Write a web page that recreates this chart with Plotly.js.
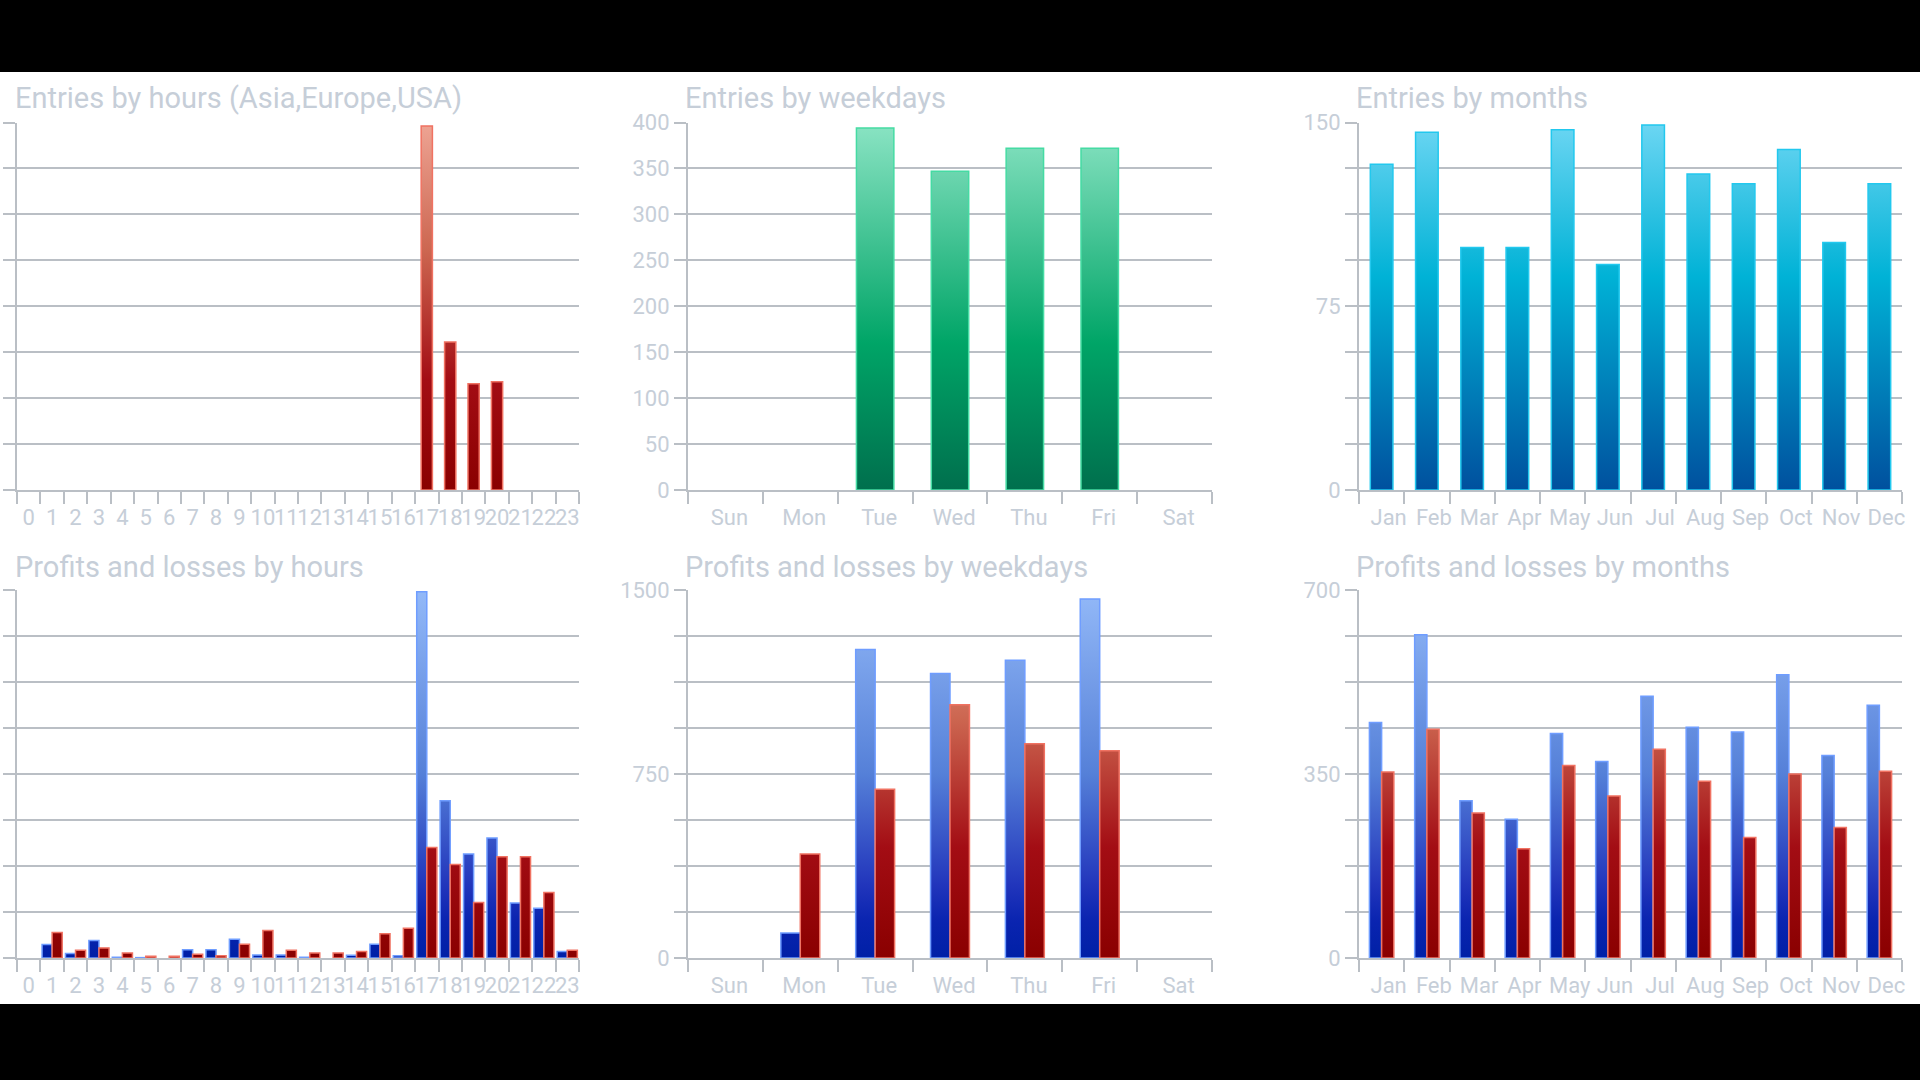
<!DOCTYPE html>
<html><head><meta charset="utf-8">
<script src="https://cdn.plot.ly/plotly-3.0.1.min.js"></script>
<style>html,body{margin:0;padding:0;background:#000;overflow:hidden}#chart{width:1920px;height:1080px}</style>
</head><body><div id="chart"></div>
<script>
// ---- data ----
const hourLabels = ['0','1','2','3','4','5','6','7','8','9','10','11','12','13','14','15','16','17','18','19','20','21','22','23'];
const weekdayLabels = ['Sun','Mon','Tue','Wed','Thu','Fri','Sat'];
const monthLabels = ['Jan','Feb','Mar','Apr','May','Jun','Jul','Aug','Sep','Oct','Nov','Dec'];

const entriesByHour = [0,0,0,0,0,0,0,0,0,0,0,0,0,0,0,0,0,743,302,217,221,0,0,0];
const entriesByWeekday = [0,0,394,347,372,372,0];
const entriesByMonth = [133,146,99,99,147,92,149,129,125,139,101,125];

const profitByHour = [0,74,25,95,4,2,0,45,45,102,16,16,4,0,15,75,12,1990,854,565,652,299,271,36];
const lossByHour   = [0,139,42,55,27,10,10,20,12,75,149,42,27,27,35,132,162,600,508,301,550,550,356,42];
const profitByWeekday = [0,102,1257,1160,1214,1463,0];
const lossByWeekday   = [0,424,688,1032,873,845,0];
const profitByMonth = [448,615,299,264,427,374,498,439,430,539,385,481];
const lossByMonth   = [354,435,276,208,366,308,397,336,229,350,248,355];

const titles = ['Entries by hours (Asia,Europe,USA)','Entries by weekdays','Entries by months',
                'Profits and losses by hours','Profits and losses by weekdays','Profits and losses by months'];

const monthEntryTicks = [0,18.75,37.5,56.25,75,93.75,112.5,131.25,150];
const monthEntryTickText = ['0','','','','75','','','','150'];
const weekdayPLTicks = [0,187.5,375,562.5,750,937.5,1125,1312.5,1500];
const weekdayPLTickText = ['0','','','','750','','','','1500'];
const monthPLTicks = [0,87.5,175,262.5,350,437.5,525,612.5,700];
const monthPLTickText = ['0','','','','350','','','','700'];

// ---- styling ----
const GRID = '#babfc5';
const TXT = '#c6ced8';
const FONT = 'Roboto, Arial, sans-serif';
const COLORS = {green:'#00a567', cyan:'#00b2d6', red:'#b01818', blue:'#3355cc'};
const BORDERS = {green:'#45dba3', cyan:'#22c8ee', red:'#f07262', blue:'#6f9dff'};

// empty categories draw no bar
function shown(v){ return v === 0 ? null : v; }

function bar(x, y, ax, col, width, offset){
  const t = {type:'bar', x:x, y:y.map(shown), xaxis:'x'+ax, yaxis:'y'+ax,
    marker:{color:COLORS[col], line:{color:BORDERS[col], width:1.5}}, width:width};
  if (offset !== undefined) t.offset = offset;
  return t;
}

const data = [
  bar(hourLabels, entriesByHour, '', 'red', 0.48),
  bar(weekdayLabels, entriesByWeekday, '2', 'green', 0.5),
  bar(monthLabels, entriesByMonth, '3', 'cyan', 0.5),
  bar(hourLabels, profitByHour, '4', 'blue', 0.43, -0.43),
  bar(hourLabels, lossByHour, '4', 'red', 0.43, 0),
  bar(weekdayLabels, profitByWeekday, '5', 'blue', 0.26, -0.26),
  bar(weekdayLabels, lossByWeekday, '5', 'red', 0.26, 0),
  bar(monthLabels, profitByMonth, '6', 'blue', 0.27, -0.27),
  bar(monthLabels, lossByMonth, '6', 'red', 0.27, 0)
];

const W = 1920, H = 1080;
const colX = [[17,579],[688,1212],[1359,1902]];
const rowY = [[122.5,490],[590,958]];
const titleX = [13,683,1354];
const titleY = [98,567];

function sfx(i){ return i===1 ? '' : String(i); }
function xa(i, col, cats, shift){
  return {domain:[colX[col][0]/W, colX[col][1]/W], anchor:'y'+sfx(i), type:'category',
    tickmode:'array', tickvals:cats, ticktext:cats, tickangle:0,
    tickson:'boundaries', ticks:'outside', ticklen:12, tickwidth:2, tickcolor:GRID,
    showgrid:false, zeroline:false, showline:true, linecolor:GRID, linewidth:2,
    tickfont:{family:FONT, size:22, color:TXT}, ticklabelshift:shift||0, ticklabelstandoff:7,
    fixedrange:true};
}
function ya(i, row, extra){
  return Object.assign({domain:[1-rowY[row][1]/H, 1-rowY[row][0]/H], anchor:'x'+sfx(i),
    showgrid:true, gridcolor:GRID, gridwidth:2, zeroline:false,
    showline:true, linecolor:GRID, linewidth:2,
    ticks:'outside', ticklen:12, tickwidth:2, tickcolor:GRID,
    tickfont:{family:FONT, size:22, color:TXT}, fixedrange:true}, extra);
}

const annotations = titles.map((t,k)=>({text:t, xref:'paper', yref:'paper',
  x:titleX[k%3]/W, y:1-titleY[Math.floor(k/3)]/H, xanchor:'left', yanchor:'middle', showarrow:false,
  font:{family:FONT, size:29, color:TXT}}));

const layout = {
  width:W, height:H, margin:{l:0,r:0,t:0,b:0},
  paper_bgcolor:'#000000', plot_bgcolor:'rgba(0,0,0,0)',
  showlegend:false, barmode:'group', hovermode:false,
  shapes:[{type:'rect', xref:'paper', yref:'paper', x0:0, x1:1, y0:1-1004/H, y1:1-72/H,
    fillcolor:'#ffffff', line:{width:0}, layer:'below'}],
  annotations:annotations,
  xaxis:xa(1,0,hourLabels,0), xaxis2:xa(2,1,weekdayLabels,4), xaxis3:xa(3,2,monthLabels,7),
  xaxis4:xa(4,0,hourLabels,0), xaxis5:xa(5,1,weekdayLabels,4), xaxis6:xa(6,2,monthLabels,7),
  yaxis:ya(1,0,{range:[0,750], dtick:93.75, showticklabels:false}),
  yaxis2:ya(2,0,{range:[0,400], dtick:50}),
  yaxis3:ya(3,0,{range:[0,150], tickmode:'array', tickvals:monthEntryTicks, ticktext:monthEntryTickText}),
  yaxis4:ya(4,1,{range:[0,2000], dtick:250, showticklabels:false}),
  yaxis5:ya(5,1,{range:[0,1500], tickmode:'array', tickvals:weekdayPLTicks, ticktext:weekdayPLTickText}),
  yaxis6:ya(6,1,{range:[0,700], tickmode:'array', tickvals:monthPLTicks, ticktext:monthPLTickText})
};

const GRADS = {
  green:[[0,'#8be4c4'],[0.6,'#00a567'],[1,'#006f4d']],
  cyan:[[0,'#6cd6f3'],[0.42,'#00b2d6'],[1,'#00509e']],
  red:[[0,'#eea494'],[0.35,'#cc6650'],[0.7,'#a30d14'],[1,'#8a0000']],
  blue:[[0,'#93b9f8'],[0.5,'#5580d8'],[0.8,'#2236bc'],[0.9,'#0a24b0'],[1,'#0020a6']]
};
function rgbKey(hex){
  const n = parseInt(hex.slice(1),16);
  return 'rgb('+((n>>16)&255)+','+((n>>8)&255)+','+(n&255)+')';
}
function applyGradients(gd){
  const ns = 'http://www.w3.org/2000/svg';
  const svg = gd.querySelector('svg.main-svg');
  let defs = svg.querySelector('defs');
  if (!defs){ defs = document.createElementNS(ns,'defs'); svg.insertBefore(defs, svg.firstChild); }
  const plotH = gd._fullLayout.yaxis._length;
  const byColor = {};
  Object.keys(GRADS).forEach(name=>{
    const lg = document.createElementNS(ns,'linearGradient');
    lg.setAttribute('id','grad-'+name);
    lg.setAttribute('gradientUnits','userSpaceOnUse');
    lg.setAttribute('x1','0'); lg.setAttribute('x2','0');
    lg.setAttribute('y1','0'); lg.setAttribute('y2', String(plotH));
    GRADS[name].forEach(s=>{
      const st = document.createElementNS(ns,'stop');
      st.setAttribute('offset', s[0]); st.setAttribute('stop-color', s[1]);
      lg.appendChild(st);
    });
    defs.appendChild(lg);
    byColor[rgbKey(COLORS[name])] = 'grad-'+name;
  });
  gd.querySelectorAll('.barlayer .trace path').forEach(p=>{
    const f = (p.style.fill||'').replace(/\s/g,'');
    const g = byColor[f];
    if (g) p.style.fill = 'url(#'+g+')';
  });
}
Plotly.newPlot('chart', data, layout, {staticPlot:true, displayModeBar:false}).then(applyGradients);
</script>
</body></html>
